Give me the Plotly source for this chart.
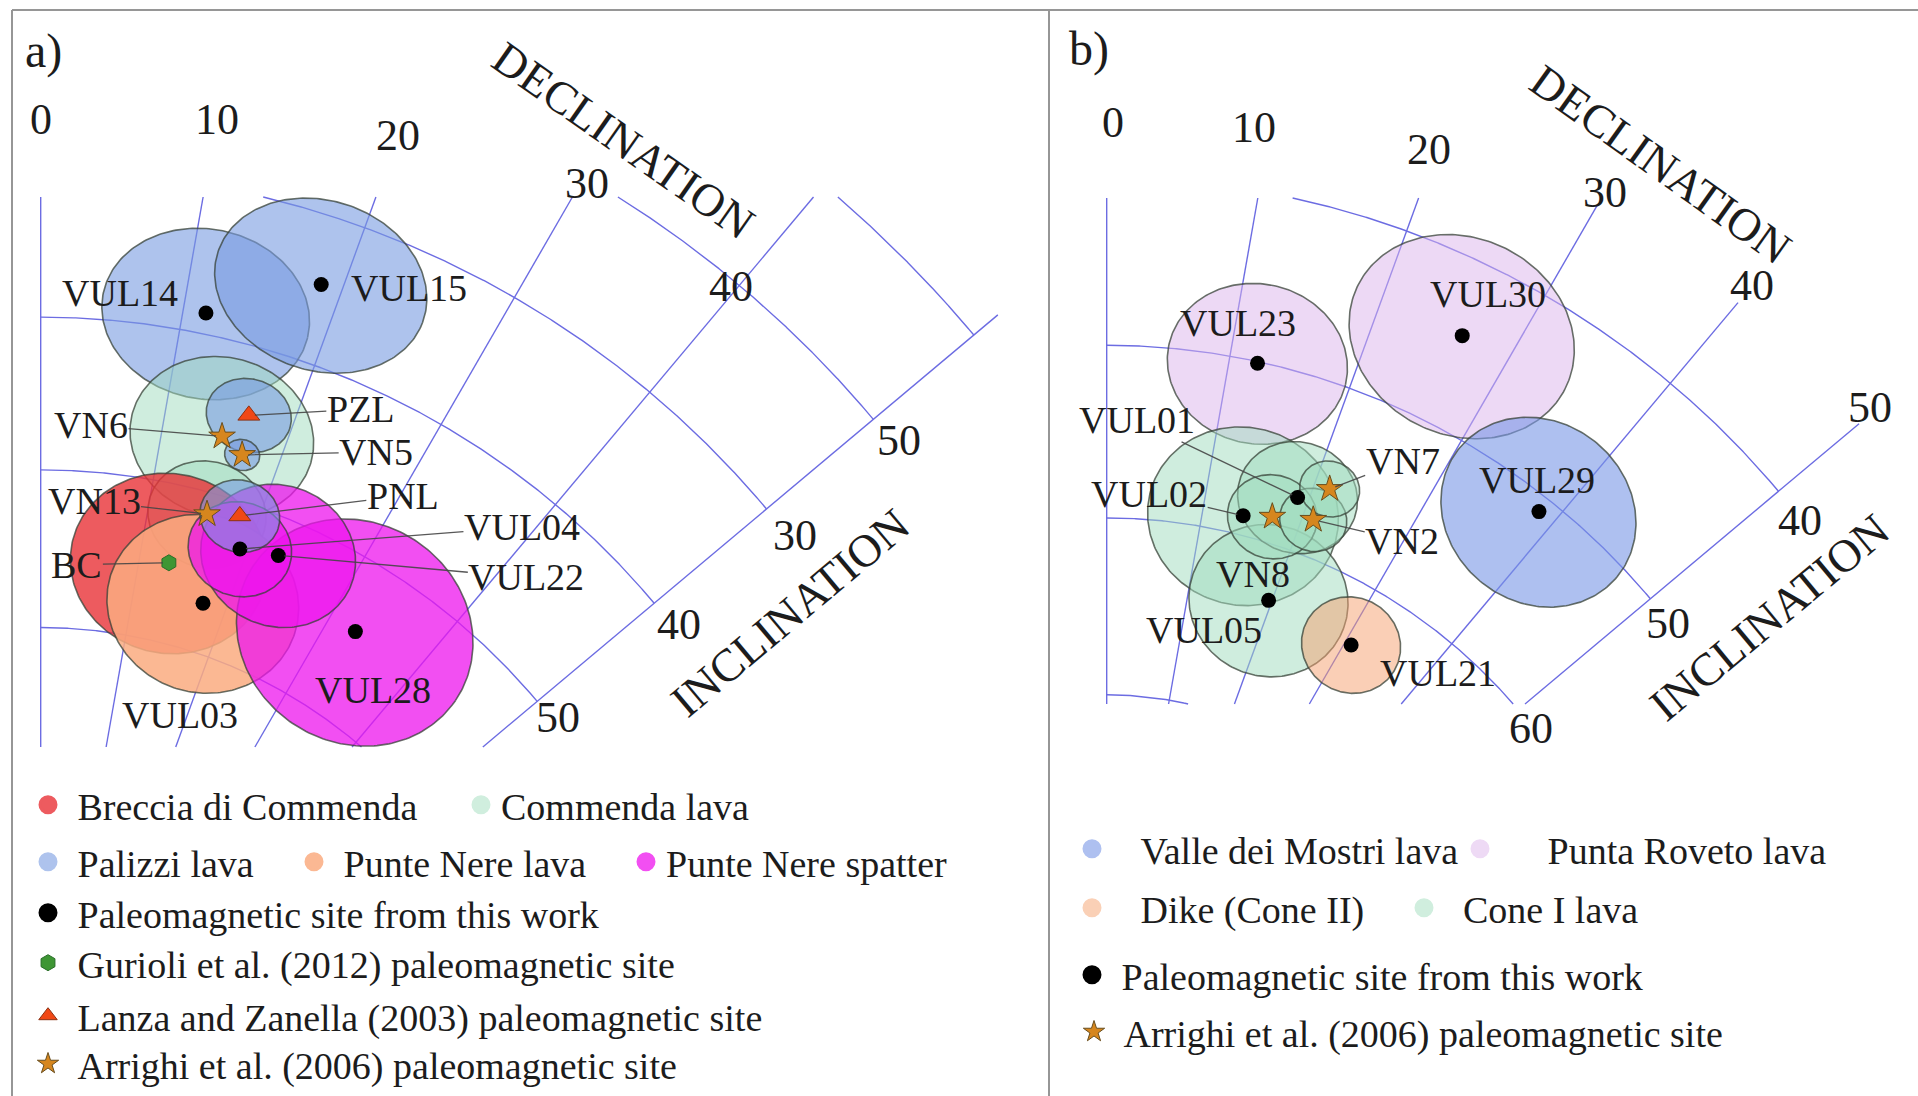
import numpy as np
import plotly.graph_objects as go

# ------------------------------------------------------------------
# Site mean directions: declination, inclination and alpha95 (degrees)
# ------------------------------------------------------------------
DEC_TICKS = [0, 10, 20, 30, 40, 50]
A_INC_TICKS = [30, 40, 50]
B_INC_TICKS = [40, 50, 60]
A_GRID_INC = [10, 20, 30, 40, 50, 60]
B_GRID_INC = [40, 50, 60, 70]

# panel a) - Commenda / Palizzi / Punte Nere products
A_SITE = ["VUL14", "VUL15", "PZL", "VN6", "VN5", "VN13", "PNL",
          "VUL04", "VUL22", "BC", "VUL03", "VUL28"]
A_DEC = [11.6, 18.6, 16.5, 14.9, 16.9, 15.4, 18.3, 19.3, 22.9, 13.0, 17.5, 32.9]
A_INC = [38.6, 34.7, 44.5, 46.3, 47.1, 51.4, 50.9, 52.9, 52.4, 55.0, 56.9, 54.4]
A_A95 = [5.7, 5.8, 2.4, 5.2, 1.0, 3.4, 2.3, 3.0, 4.5, 5.7, 5.6, 7.0]
A_UNIT = ["Palizzi lava", "Palizzi lava", "Palizzi lava", "Commenda lava",
          "Palizzi lava", "Commenda lava", "Palizzi lava", "Punte Nere spatter",
          "Punte Nere spatter", "Breccia di Commenda", "Punte Nere lava",
          "Punte Nere spatter"]
A_SOURCE = ["this", "this", "lanza", "arrighi", "arrighi", "arrighi", "lanza",
            "this", "this", "gurioli", "this", "this"]
A_UNITS = ["Breccia di Commenda", "Commenda lava", "Palizzi lava",
           "Punte Nere lava", "Punte Nere spatter"]

# panel b) - Valle dei Mostri / Punta Roveto / Cone I and Cone II
B_SITE = ["VUL23", "VUL30", "VUL29", "VUL02", "VUL01", "VN8", "VN2", "VN7",
          "VUL05", "VUL21"]
B_DEC = [12.3, 26.3, 38.5, 14.2, 18.9, 17.1, 21.1, 21.5, 19.6, 30.8]
B_INC = [50.1, 44.5, 50.9, 58.9, 57.0, 58.5, 57.9, 55.9, 63.1, 63.4]
B_A95 = [4.7, 5.9, 5.3, 5.1, 3.2, 2.4, 1.8, 1.6, 4.3, 2.7]
B_UNIT = ["Punta Roveto lava", "Punta Roveto lava", "Valle dei Mostri lava",
          "Cone I lava", "Cone I lava", "Cone I lava", "Cone I lava",
          "Cone I lava", "Cone I lava", "Dike (Cone II)"]
B_SOURCE = ["this", "this", "this", "this", "this", "arrighi", "arrighi",
            "arrighi", "this", "this"]
B_UNITS = ["Valle dei Mostri lava", "Punta Roveto lava", "Dike (Cone II)",
           "Cone I lava"]

SOURCE_NAME = {
    "this": "Paleomagnetic site from this work",
    "gurioli": "Gurioli et al. (2012) paleomagnetic site",
    "lanza": "Lanza and Zanella (2003) paleomagnetic site",
    "arrighi": "Arrighi et al. (2006) paleomagnetic site",
}

# ------------------------------------------------------------------
# styles
# ------------------------------------------------------------------
W, H = 1918, 1096
FONT = "Liberation Serif, Times New Roman, serif"
INK = "#1c1c1c"
GRID_COLOR = "rgb(108,108,226)"

UNIT_FILL = {
    "Breccia di Commenda": (232, 50, 55, 0.80),
    "Commenda lava": (160, 220, 190, 0.50),
    "Palizzi lava": (120, 155, 225, 0.60),
    "Punte Nere lava": (250, 172, 128, 0.85),
    "Punte Nere spatter": (238, 20, 238, 0.75),
    "Valle dei Mostri lava": (120, 150, 230, 0.60),
    "Punta Roveto lava": (220, 180, 235, 0.50),
    "Dike (Cone II)": (245, 160, 110, 0.50),
    "Cone I lava": (160, 220, 190, 0.50),
}


def rgba(c):
    return "rgba(%d,%d,%d,%.2f)" % c


def on_white(c):
    r, g, b, a = c
    return "rgb(%d,%d,%d)" % tuple(round(255 - (255 - v) * a) for v in (r, g, b))


CIRCLE_EDGE = dict(color="rgba(55,65,55,0.75)", width=1.6)

SOURCE_MARKER = {
    "this": dict(symbol="circle", size=15, color="black"),
    "gurioli": dict(symbol="hexagon", size=16, color="rgb(62,150,52)",
                    line=dict(color="rgb(40,110,40)", width=1)),
    "lanza": dict(symbol="triangle-up", size=19, color="rgb(240,72,22)",
                  line=dict(color="rgb(140,50,20)", width=1)),
    "arrighi": dict(symbol="star", size=20, color="rgb(214,134,30)",
                    line=dict(color="rgb(105,78,30)", width=1)),
}

# circle stacking order (first = bottom)
DRAW_ORDER = {
    "a": ["VUL14", "VUL15", "VN6", "VN13", "BC", "VUL03", "VUL28", "VUL22",
          "VUL04", "PZL", "VN5", "PNL"],
    "b": ["VUL23", "VUL30", "VUL29", "VUL02", "VUL05", "VUL01", "VN8", "VN2",
          "VN7", "VUL21"],
}

# site label offsets in pixels (dx, dy, leader line)
LABEL_PX = {
    "VUL14": (-86, -20, False), "VUL15": (88, 3, False),
    "PZL": (112, -6, True), "VN6": (-131, -11, True), "VN5": (134, -3, True),
    "VN13": (-113, -13, True), "PNL": (163, -20, True),
    "VUL04": (282, -22, True), "VUL22": (248, 22, True), "BC": (-92, 2, True),
    "VUL03": (-23, 112, False), "VUL28": (18, 58, False),
    "VUL23": (-20, -40, False), "VUL30": (26, -42, False),
    "VUL29": (-2, -32, False), "VUL01": (-161, -77, True),
    "VUL02": (-94, -22, True), "VN7": (73, -28, True), "VN2": (89, 21, True),
    "VN8": (-19, 57, False), "VUL05": (-65, 30, False), "VUL21": (87, 28, False),
}

# panel geometry: projection centre / scale in pixels and grid window
GEOM = {
    "a": dict(xa="x", ya="y", cx=40.7, cy=1118.0, k=1895.0, left=0, right=1049,
              top=197.0, bottom=747.0, outer=7.5,
              dec_lab=[(0, 26.4), (10, 25.3), (20, 23.0), (30.3, 20.3),
                       (39.7, 20.5), (51.7, 19.5)],
              inc_lab_dec=52.3, inc_lab_shift=-0.4,
              dec_title=(30.8, 16.2, 35), inc_title=(56.0, 33.0, -40),
              letter="a)", letter_px=(43, 51)),
    "b": dict(xa="x2", ya="y2", cx=1106.7, cy=1055.0, k=2075.0, left=1049,
              right=W, top=198.0, bottom=704.0, outer=33.5,
              dec_lab=[(0.4, 36.6), (9.0, 36.2), (19.6, 34.8), (30.0, 32.6),
                       (40.0, 32.1), (49.7, 32.3)],
              inc_lab_dec=52.4, inc_lab_shift=0.1,
              dec_title=(31.9, 29.3, 35.5), inc_title=(56.6, 45.0, -39.6),
              letter="b)", letter_px=(1089, 49)),
}


# ------------------------------------------------------------------
# equal-area (Schmidt) projection, lower hemisphere
# ------------------------------------------------------------------
def ea_radius(inc):
    return np.sqrt(2.0) * np.sin(np.radians(90.0 - np.asarray(inc, float)) / 2.0)


def project(dec, inc):
    r = ea_radius(inc)
    d = np.radians(np.asarray(dec, float))
    return r * np.sin(d), r * np.cos(d)


def confidence_cone(dec, inc, a95, n=241):
    d, i, a = np.radians([dec, inc, a95])
    c = np.array([np.cos(i) * np.sin(d), np.cos(i) * np.cos(d), np.sin(i)])
    e1 = np.array([np.cos(d), -np.sin(d), 0.0])
    e2 = np.cross(c, e1)
    t = np.linspace(0, 2 * np.pi, n)
    v = (np.cos(a) * c[:, None]
         + np.sin(a) * (np.cos(t) * e1[:, None] + np.sin(t) * e2[:, None]))
    return (np.degrees(np.arctan2(v[0], v[1])),
            np.degrees(np.arcsin(np.clip(v[2], -1, 1))))


fig = go.Figure()
annotations = []

PANEL_DATA = {
    "a": dict(site=A_SITE, dec=A_DEC, inc=A_INC, a95=A_A95, unit=A_UNIT,
              source=A_SOURCE, inc_ticks=A_INC_TICKS, grid_inc=A_GRID_INC),
    "b": dict(site=B_SITE, dec=B_DEC, inc=B_INC, a95=B_A95, unit=B_UNIT,
              source=B_SOURCE, inc_ticks=B_INC_TICKS, grid_inc=B_GRID_INC),
}

layout_axes = {}
for key, g in GEOM.items():
    dat = PANEL_DATA[key]
    s = g["k"] / np.sqrt(2.0)                     # pixels per projection unit
    v_top = (g["cy"] - g["top"]) / s
    v_bot = (g["cy"] - g["bottom"]) / s
    r_out = float(ea_radius(g["outer"]))

    # ---- net: declination spokes and inclination arcs --------------
    gx, gy = [], []
    for d in DEC_TICKS:
        cd = np.cos(np.radians(d))
        r0 = min(r_out, v_top / cd)
        r1 = max(0.0, v_bot / cd)
        if r0 <= r1:
            continue
        rr = np.array([r0, r1])
        gx += list(rr * np.sin(np.radians(d))) + [None]
        gy += list(rr * cd) + [None]
    for inc in dat["grid_inc"]:
        r = float(ea_radius(inc))
        if v_bot > r:
            continue
        d_lo = np.degrees(np.arccos(min(1.0, v_top / r)))
        d_hi = np.degrees(np.arccos(min(1.0, max(-1.0, v_bot / r))))
        d_lo, d_hi = max(d_lo, DEC_TICKS[0]), min(d_hi, DEC_TICKS[-1])
        if d_hi <= d_lo:
            continue
        dd = np.radians(np.linspace(d_lo, d_hi, 400))
        gx += list(r * np.sin(dd)) + [None]
        gy += list(r * np.cos(dd)) + [None]
    fig.add_trace(go.Scatter(x=gx, y=gy, mode="lines", xaxis=g["xa"], yaxis=g["ya"],
                             line=dict(color=GRID_COLOR, width=1.4),
                             hoverinfo="skip", showlegend=False))

    # ---- alpha95 confidence circles --------------------------------
    idx = {n: j for j, n in enumerate(dat["site"])}
    for name in DRAW_ORDER[key]:
        j = idx[name]
        cd, ci = confidence_cone(dat["dec"][j], dat["inc"][j], dat["a95"][j])
        ux, uy = project(cd, ci)
        fig.add_trace(go.Scatter(x=ux, y=uy, mode="lines", fill="toself",
                                 fillcolor=rgba(UNIT_FILL[dat["unit"][j]]),
                                 line=CIRCLE_EDGE, xaxis=g["xa"], yaxis=g["ya"],
                                 hoverinfo="skip", showlegend=False))

    # ---- site mean directions -------------------------------------
    for src in ["this", "gurioli", "lanza", "arrighi"]:
        sel = [j for j, sc in enumerate(dat["source"]) if sc == src]
        if not sel:
            continue
        ux, uy = project([dat["dec"][j] for j in sel], [dat["inc"][j] for j in sel])
        fig.add_trace(go.Scatter(x=ux, y=uy, mode="markers", marker=SOURCE_MARKER[src],
                                 xaxis=g["xa"], yaxis=g["ya"],
                                 text=[dat["site"][j] for j in sel],
                                 hoverinfo="text", showlegend=False))

    # ---- site labels ----------------------------------------------
    for j, name in enumerate(dat["site"]):
        ux, uy = project(dat["dec"][j], dat["inc"][j])
        dx, dy, leader = LABEL_PX[name]
        a = dict(x=float(ux), y=float(uy), xref=g["xa"], yref=g["ya"], text=name,
                 font=dict(family=FONT, size=38, color=INK))
        if leader:
            a.update(showarrow=True, ax=dx, ay=dy, arrowhead=0, arrowwidth=1.3,
                     arrowcolor="rgba(70,70,70,0.9)", standoff=6, borderpad=0)
        else:
            a.update(showarrow=False, xshift=dx, yshift=-dy)
        annotations.append(a)

    # ---- tick labels and axis titles ------------------------------
    for val, (d, i) in zip(DEC_TICKS, g["dec_lab"]):
        ux, uy = project(d, i)
        annotations.append(dict(x=float(ux), y=float(uy), xref=g["xa"], yref=g["ya"],
                                text=str(val), showarrow=False,
                                font=dict(family=FONT, size=44, color=INK)))
    for val in dat["inc_ticks"]:
        ux, uy = project(g["inc_lab_dec"], val + g["inc_lab_shift"])
        annotations.append(dict(x=float(ux), y=float(uy), xref=g["xa"], yref=g["ya"],
                                text=str(val), showarrow=False,
                                font=dict(family=FONT, size=44, color=INK)))
    for txt, (d, i, ang) in (("DECLINATION", g["dec_title"]),
                             ("INCLINATION", g["inc_title"])):
        ux, uy = project(d, i)
        annotations.append(dict(x=float(ux), y=float(uy), xref=g["xa"], yref=g["ya"],
                                text=txt, showarrow=False, textangle=ang,
                                font=dict(family=FONT, size=46, color=INK)))
    lx, ly = g["letter_px"]
    annotations.append(dict(x=lx / W, y=1 - ly / H, xref="paper", yref="paper",
                            xanchor="center", yanchor="middle",
                            text=g["letter"], showarrow=False,
                            font=dict(family=FONT, size=48, color=INK)))

    # ---- axes: one projection unit = s pixels on both axes ---------
    xa_name = "xaxis" if key == "a" else "xaxis2"
    ya_name = "yaxis" if key == "a" else "yaxis2"
    layout_axes[xa_name] = dict(domain=[g["left"] / W, g["right"] / W],
                                range=[(g["left"] - g["cx"]) / s, (g["right"] - g["cx"]) / s],
                                visible=False, fixedrange=True, anchor=g["ya"])
    layout_axes[ya_name] = dict(domain=[0, 1],
                                range=[(g["cy"] - H) / s, g["cy"] / s],
                                visible=False, fixedrange=True, anchor=g["xa"])

# ------------------------------------------------------------------
# legends (one small legend box per entry)
# ------------------------------------------------------------------
NB = "\u00a0"
legend_entries = [
    # (label, marker style, marker centre x px, row centre y px, leading gap)
    ("Breccia di Commenda", "Breccia di Commenda", 48, 805, 1),
    ("Commenda lava", "Commenda lava", 481, 805, 0),
    ("Palizzi lava", "Palizzi lava", 48, 862, 1),
    ("Punte Nere lava", "Punte Nere lava", 314, 862, 1),
    ("Punte Nere spatter", "Punte Nere spatter", 646, 862, 0),
    (SOURCE_NAME["this"], "this", 48, 913, 1),
    (SOURCE_NAME["gurioli"], "gurioli", 48, 963, 1),
    (SOURCE_NAME["lanza"], "lanza", 48, 1016, 1),
    (SOURCE_NAME["arrighi"], "arrighi", 48, 1064, 1),
    ("Valle dei Mostri lava", "Valle dei Mostri lava", 1092, 849, 3),
    ("Punta Roveto lava", "Punta Roveto lava", 1480, 849, 5),
    ("Dike (Cone II)", "Dike (Cone II)", 1092, 908, 3),
    ("Cone I lava", "Cone I lava", 1424, 908, 2),
    (SOURCE_NAME["this"], "this", 1092, 975, 1),
    (SOURCE_NAME["arrighi"], "arrighi", 1094, 1032, 1),
]

legend_layout = {}
for n, (label, style_key, mx, my, pad) in enumerate(legend_entries):
    lid = "legend" if n == 0 else f"legend{n + 1}"
    if style_key in UNIT_FILL:
        solid = on_white(UNIT_FILL[style_key])
        mk = dict(symbol="circle", size=16, color=solid,
                  line=dict(color=solid, width=3))
    elif style_key == "this":
        mk = dict(symbol="circle", size=16, color="black",
                  line=dict(color="black", width=3))
    else:
        mk = SOURCE_MARKER[style_key]
    fig.add_trace(go.Scatter(x=[None], y=[None], mode="markers", marker=mk,
                             name=NB * pad + label, legend=lid, showlegend=True,
                             xaxis="x", yaxis="y", hoverinfo="skip"))
    legend_layout[lid] = dict(x=(mx - 20) / W, y=1 - my / H, xanchor="left",
                              yanchor="middle", bgcolor="rgba(0,0,0,0)",
                              borderwidth=0, itemwidth=30,
                              font=dict(family=FONT, size=38, color=INK))

# panel frames
FRAME = dict(color="rgb(150,150,150)", width=2)
shapes = [
    dict(type="line", xref="paper", yref="paper", x0=12 / W, x1=1, y0=1 - 10 / H,
         y1=1 - 10 / H, line=FRAME),
    dict(type="line", xref="paper", yref="paper", x0=12 / W, x1=12 / W,
         y0=0, y1=1 - 10 / H, line=FRAME),
    dict(type="line", xref="paper", yref="paper", x0=1049 / W, x1=1049 / W,
         y0=0, y1=1 - 10 / H, line=FRAME),
]

fig.update_layout(
    width=W, height=H, autosize=False,
    margin=dict(l=0, r=0, t=0, b=0, pad=0),
    paper_bgcolor="white", plot_bgcolor="rgba(0,0,0,0)",
    annotations=annotations, shapes=shapes,
    hovermode="closest",
    **layout_axes, **legend_layout,
)

fig.write_html("out.html", config={"displayModeBar": False})
